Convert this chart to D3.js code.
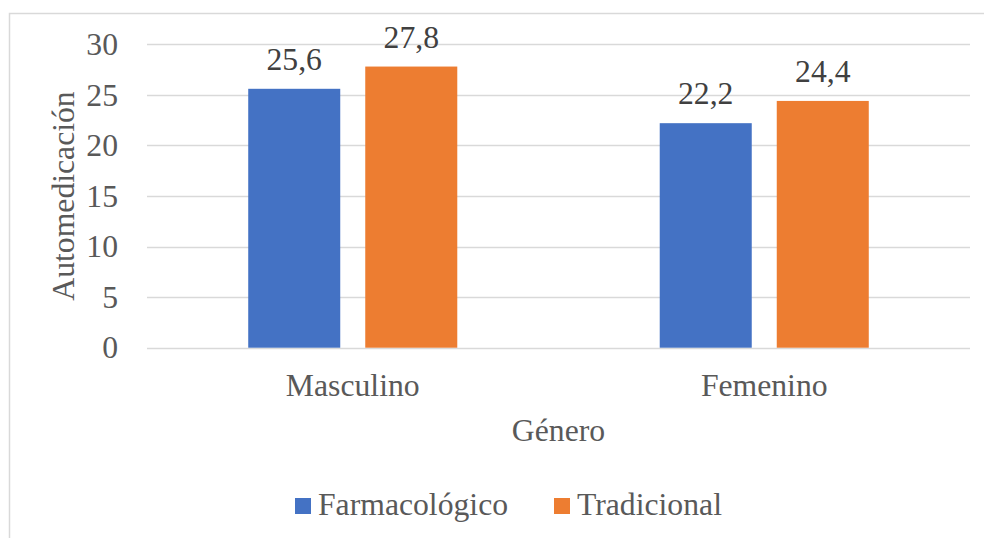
<!DOCTYPE html>
<html>
<head>
<meta charset="utf-8">
<script src="https://cdn.jsdelivr.net/npm/d3@7"></script>
<style>
  body { margin: 0; background: #fff; }
  svg text { font-family: "Liberation Serif", "Times New Roman", serif; }
</style>
</head>
<body>
<svg id="chart" width="984" height="538"></svg>
<script>
// data
let categories = ["Masculino", "Femenino"];
let seriesNames = ["Farmacológico", "Tradicional"];
let farmacologico = [25.6, 22.2];
let tradicional = [27.8, 24.4];
let yTicks = [0, 5, 10, 15, 20, 25, 30];
let colors = ["#4472C4", "#ED7D31"];

// values per category, in series order
let barData = categories.map(function(c, i) { return [farmacologico[i], tradicional[i]]; });

let width = 984, height = 538;
let plotLeft = 147, plotRight = 970, plotTop = 44.3, plotBottom = 347.7;
let fontSize = "31.7px";

let svg = d3.select("#chart");

// outer chart border (cut at the right and bottom)
svg.append("rect")
	.attr("x", 9.5)
	.attr("y", 13.5)
	.attr("width", 1000)
	.attr("height", 600)
	.attr("fill", "none")
	.attr("stroke", "#d9d9d9")
	.attr("stroke-width", 1.5);

let x0 = d3.scaleBand()
	.domain(categories)
	.range([plotLeft, plotRight]);

let x1 = d3.scaleBand()
	.domain(seriesNames)
	.range([0, x0.bandwidth()])
	.paddingInner(0.2137)
	.paddingOuter(0.865);

let y = d3.scaleLinear()
	.domain([0, 30])
	.range([plotBottom, plotTop]);

// gridlines
svg.append("g")
	.selectAll("line")
	.data(yTicks)
	.enter().append("line")
	.attr("x1", plotLeft)
	.attr("x2", plotRight)
	.attr("y1", function(d) { return Math.round(y(d)) + 0.5; })
	.attr("y2", function(d) { return Math.round(y(d)) + 0.5; })
	.attr("stroke", "#d9d9d9")
	.attr("stroke-width", 1.5);

// y axis labels
let yAxis = svg.append("g")
	.attr("transform", "translate(" + plotLeft + ",0)")
	.call(d3.axisLeft(y).tickValues(yTicks).tickSize(0).tickPadding(29).tickFormat(d3.format("d")));
yAxis.select(".domain").remove();
yAxis.selectAll("text")
	.attr("fill", "#595959")
	.style("font-size", fontSize)
	.style("font-family", "Liberation Serif");

// bars
let groups = svg.append("g")
	.selectAll("g")
	.data(barData)
	.enter().append("g")
	.attr("transform", function(d, i) { return "translate(" + x0(categories[i]) + ",0)"; });

groups.selectAll("rect")
	.data(function(d) { return d; })
	.enter().append("rect")
	.attr("x", function(d, i) { return x1(seriesNames[i]); })
	.attr("y", function(d) { return y(d); })
	.attr("width", x1.bandwidth())
	.attr("height", function(d) { return y(0) - y(d); })
	.attr("fill", function(d, i) { return colors[i]; });

groups.selectAll("text")
	.data(function(d) { return d; })
	.enter().append("text")
	.attr("x", function(d, i) { return x1(seriesNames[i]) + x1.bandwidth()/2; })
	.attr("y", function(d) { return y(d) - 19; })
	.attr("fill", "#404040")
	.style("font-size", fontSize)
	.style("text-anchor", "middle")
	.text(function(d) { return d3.format(".1f")(d).replace(".", ","); });

// x axis labels
let xAxis = svg.append("g")
	.attr("transform", "translate(0," + plotBottom + ")")
	.call(d3.axisBottom(x0).tickSize(0).tickPadding(26));
xAxis.select(".domain").remove();
xAxis.selectAll("text")
	.attr("fill", "#595959")
	.style("font-size", fontSize)
	.style("font-family", "Liberation Serif");

// axis titles
svg.append("text")
	.attr("x", (plotLeft + plotRight)/2)
	.attr("y", 441)
	.attr("fill", "#595959")
	.style("font-size", fontSize)
	.style("text-anchor", "middle")
	.text("Género");

svg.append("text")
	.attr("x", 0 - (plotTop + plotBottom)/2)
	.attr("y", 74)
	.attr("transform", "rotate(-90)")
	.attr("fill", "#595959")
	.style("font-size", fontSize)
	.style("text-anchor", "middle")
	.text("Automedicación");

// legend
let legendX = [295, 554];
let legend = svg.append("g")
	.selectAll("g")
	.data(seriesNames)
	.enter().append("g")
	.attr("transform", function(d, i) { return "translate(" + legendX[i] + ",498)"; });

legend.append("rect")
	.attr("width", 16)
	.attr("height", 16)
	.attr("fill", function(d, i) { return colors[i]; });

legend.append("text")
	.attr("x", 23)
	.attr("y", 17)
	.attr("fill", "#595959")
	.style("font-size", fontSize)
	.text(function(d) { return d; });
</script>
</body>
</html>
